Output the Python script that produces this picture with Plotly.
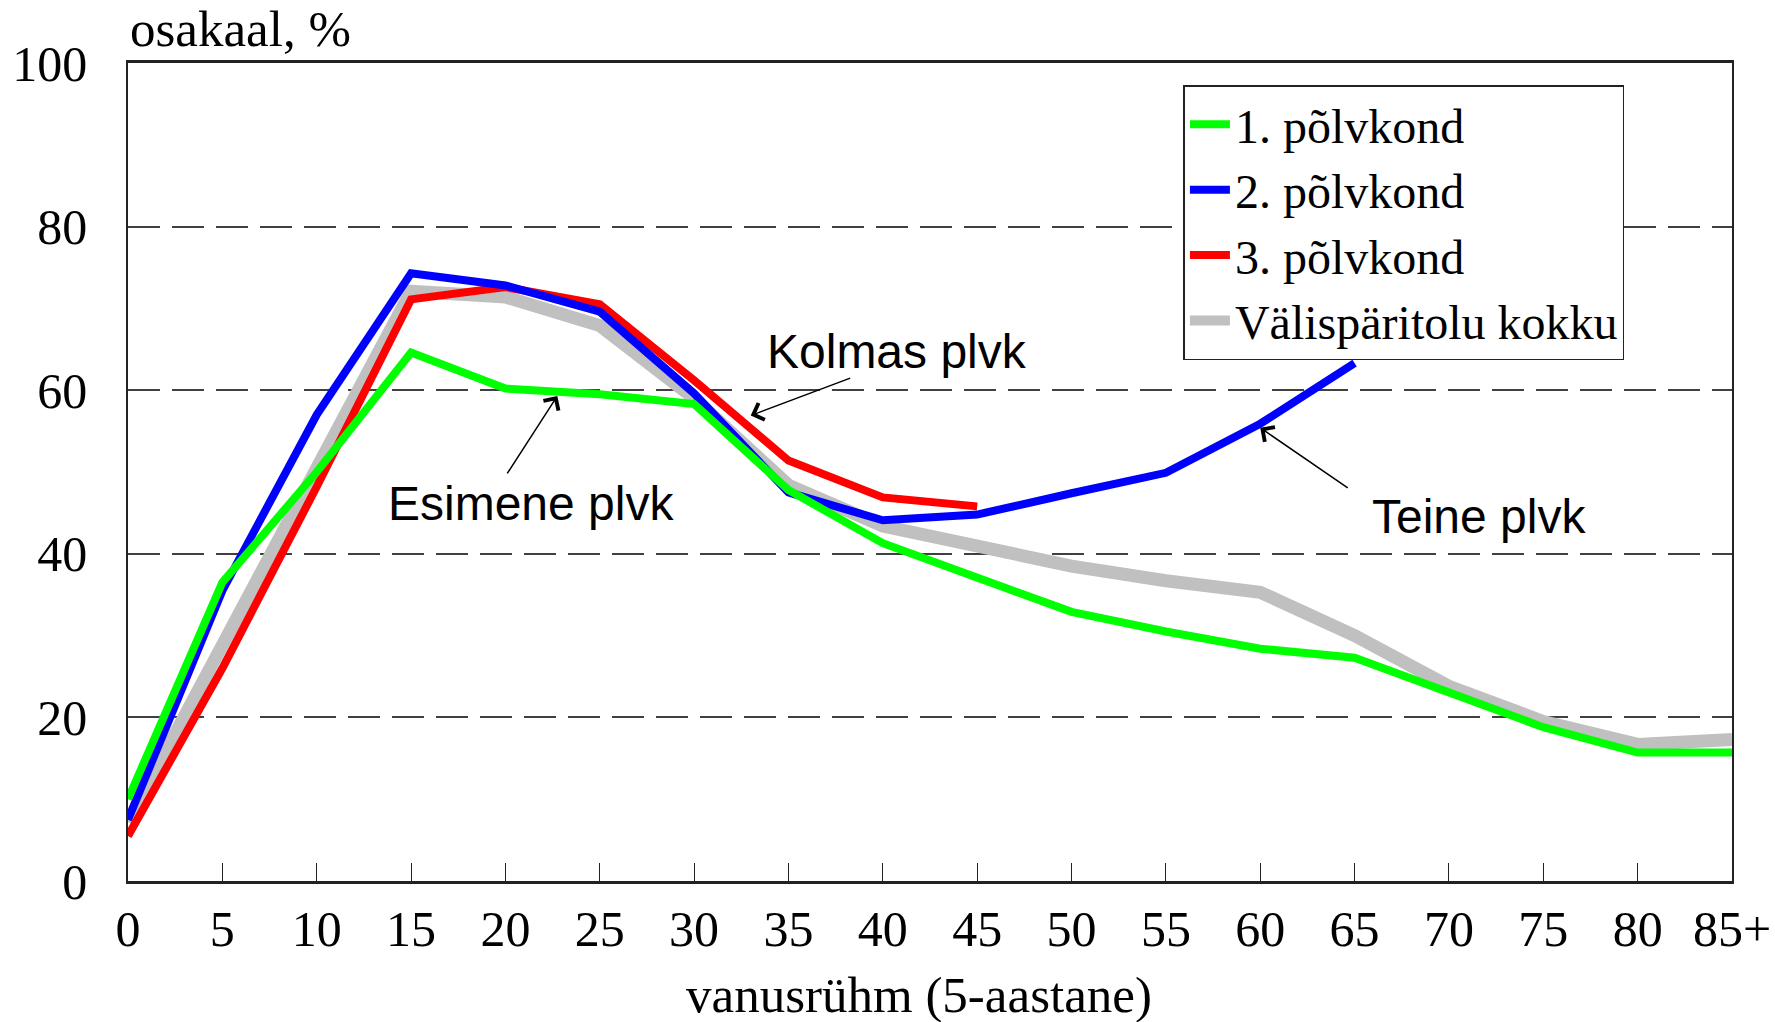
import plotly.graph_objects as go

ages = ["0", "5", "10", "15", "20", "25", "30", "35", "40", "45",
        "50", "55", "60", "65", "70", "75", "80", "85+"]

gen1 = [10.0, 36.5, 50.0, 64.6, 60.2, 59.5, 58.3, 47.8, 41.3, 37.1,
        32.9, 30.5, 28.4, 27.3, 23.0, 18.8, 15.7, 15.7]
gen2 = [7.5, 35.5, 57.0, 74.3, 72.8, 69.6, 59.6, 47.5, 44.1, 44.8,
        47.4, 49.9, 55.9, 63.3]
gen3 = [5.5, 26.0, 48.2, 71.1, 72.6, 70.5, 61.2, 51.4, 46.9, 45.8]
total = [7.2, 28.8, 50.5, 72.1, 71.4, 67.9, 59.0, 48.4, 43.4, 41.0,
         38.5, 36.7, 35.3, 30.0, 23.8, 19.5, 16.7, 17.3]

names = ["1. põlvkond", "2. põlvkond", "3. põlvkond", "Välispäritolu kokku"]
colors = ["#00FF00", "#0000FF", "#FF0000", "#C0C0C0"]

SERIF = "Liberation Serif, Times New Roman, serif"
SANS = "Liberation Sans, Arial, sans-serif"

fig = go.Figure()
# draw order: gray, red, blue, green (green on top)
fig.add_trace(go.Scatter(x=ages, y=total, name=names[3], mode="lines",
                         line=dict(color=colors[3], width=13)))
fig.add_trace(go.Scatter(x=ages[:len(gen3)], y=gen3, name=names[2], mode="lines",
                         line=dict(color=colors[2], width=8)))
fig.add_trace(go.Scatter(x=ages[:len(gen2)], y=gen2, name=names[1], mode="lines",
                         line=dict(color=colors[1], width=8)))
fig.add_trace(go.Scatter(x=ages, y=gen1, name=names[0], mode="lines",
                         line=dict(color=colors[0], width=8)))

# arrows (head in data coords, tail offset in px)
arrows = [
    (6.60, 56.9, 101, -38),   # Kolmas
    (4.55, 59.3, -51, 79),    # Esimene
    (12.0, 55.4, 89, 61),     # Teine
]
for hx, hy, ax, ay in arrows:
    fig.add_annotation(x=hx, y=hy, ax=ax, ay=ay, text="", showarrow=True,
                       arrowhead=4, arrowsize=2.3, arrowwidth=1.5,
                       arrowcolor="black", xref="x", yref="y")

labels = [
    ("Kolmas plvk", 8.15, 64.7),
    ("Esimene plvk", 4.27, 46.1),
    ("Teine plvk", 14.32, 44.6),
]
for txt, tx, ty in labels:
    fig.add_annotation(x=tx, y=ty, text=txt, showarrow=False,
                       font=dict(family=SANS, size=48, color="black"),
                       xref="x", yref="y")

fig.add_annotation(x=0, y=1, xref="paper", yref="paper", xanchor="left",
                   yanchor="bottom", yshift=4, text="osakaal, %", showarrow=False,
                   font=dict(family=SERIF, size=51, color="black"))
fig.add_annotation(x=0.493, y=-(1022 - 881) / 818, xref="paper", yref="paper",
                   xanchor="center", yanchor="bottom", yshift=-3,
                   text="vanusrühm (5-aastane)", showarrow=False,
                   font=dict(family=SERIF, size=51, color="black"))

fig.update_layout(
    width=1775, height=1022,
    margin=dict(l=128, r=43, t=63, b=141, autoexpand=False),
    paper_bgcolor="white", plot_bgcolor="white",
    font=dict(family=SERIF, size=50, color="black"),
    showlegend=True,
    legend=dict(x=0.658, y=0.973, xanchor="left", yanchor="top",
                traceorder="reversed", bgcolor="white",
                bordercolor="#222", borderwidth=1.5,
                font=dict(family=SERIF, size=48, color="black"),
                itemwidth=40),
    xaxis=dict(type="category", range=[0, len(ages) - 1], automargin=False,
               showgrid=False, showline=True, linecolor="#222", linewidth=2.5,
               mirror=True, ticks="inside", ticklen=18, tickwidth=1.2,
               tickcolor="#222", ticklabelstandoff=2,
               tickfont=dict(family=SERIF, size=50, color="black")),
    yaxis=dict(range=[0, 100], dtick=20, showgrid=True, gridcolor="#404040",
               gridwidth=1.5, griddash="32px,12px", zeroline=False,
               automargin=False,
               showline=True, linecolor="#222", linewidth=1.5, mirror=True,
               ticks="", ticklabelstandoff=29,
               tickfont=dict(family=SERIF, size=50, color="black")),
)

fig.write_html("out.html", config={"displayModeBar": False},
               post_script="document.body.style.margin='0';")
